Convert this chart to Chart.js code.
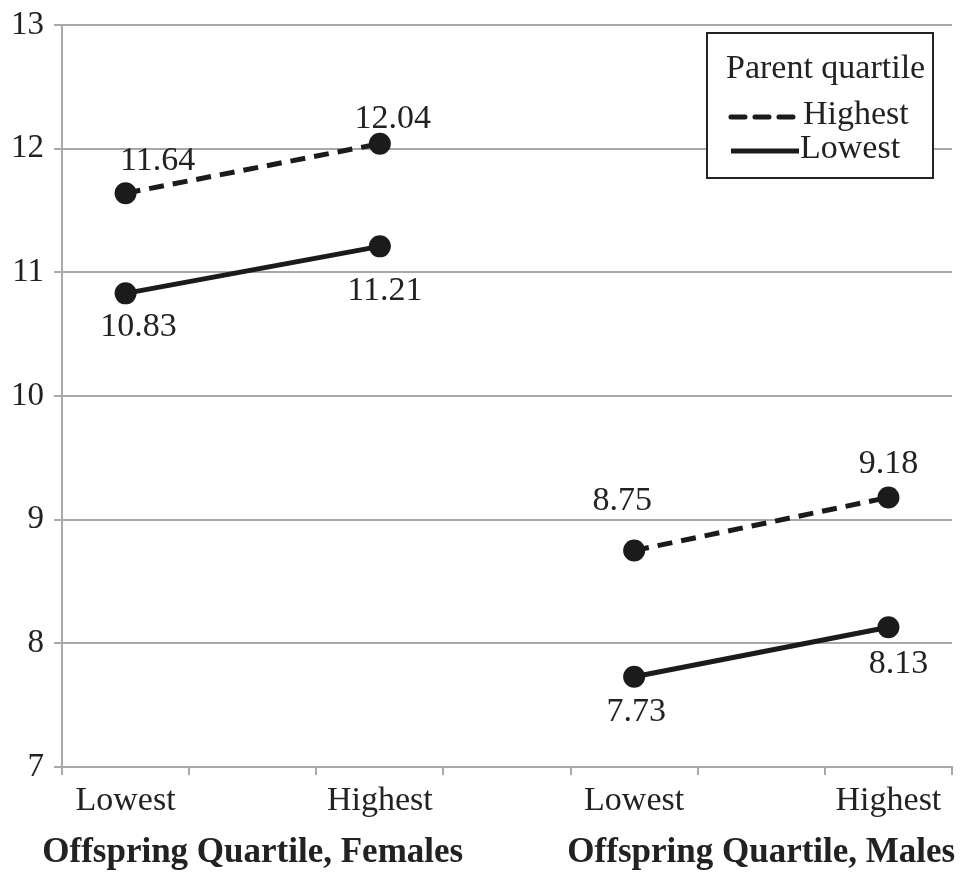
<!DOCTYPE html>
<html><head><meta charset="utf-8">
<script src="https://cdn.jsdelivr.net/npm/chart.js@4.4.1/dist/chart.umd.min.js"></script>
<style>html,body{margin:0;padding:0;background:#fff;}#wrap{width:965px;height:874px;}</style>
</head><body><div id="wrap"><canvas id="c" width="965" height="874"></canvas></div>
<script>
// Data
const categories = ['Lowest', '', 'Highest', '', 'Lowest', '', 'Highest'];
const groupTitles = ['Offspring Quartile, Females', 'Offspring Quartile, Males'];
const femalesHighestParent = [11.64, null, 12.04, null, null, null, null];
const femalesLowestParent  = [10.83, null, 11.21, null, null, null, null];
const malesHighestParent   = [null, null, null, null, 8.75, null, 9.18];
const malesLowestParent    = [null, null, null, null, 7.73, null, 8.13];
const legendTitle = 'Parent quartile';
const legendLabels = ['Highest', 'Lowest'];
const yTicks = [7, 8, 9, 10, 11, 12, 13];

const FONT = '"Liberation Serif", "Times New Roman", serif';
const INK = '#1b1b1b';
const GRID = '#a8a8a8';

// label offsets (style only), per dataset per index
const labelOffsets = [
  {0: [32, -32], 2: [13, -25]},
  {0: [13, 34], 2: [5, 45]},
  {4: [-12, -50], 6: [0, -33]},
  {4: [2, 35], 6: [10, 37]}
];

function ds(data, dashed) {
  return {
    data, spanGaps: true,
    borderColor: INK, backgroundColor: INK,
    borderWidth: 5, borderDash: dashed ? [15, 9] : [],
    pointRadius: 11, pointHoverRadius: 11,
    pointBackgroundColor: INK, pointBorderColor: INK, pointBorderWidth: 0,
    borderCapStyle: 'butt'
  };
}

const drawExtras = {
  id: 'extras',
  afterDatasetsDraw(chart) {
    const ctx = chart.ctx;
    const x = chart.scales.x;
    ctx.save();
    // data labels
    ctx.fillStyle = '#222';
    ctx.font = '34px ' + FONT;
    ctx.textAlign = 'center';
    ctx.textBaseline = 'middle';
    chart.data.datasets.forEach((d, di) => {
      const meta = chart.getDatasetMeta(di);
      d.data.forEach((v, i) => {
        if (v === null) return;
        const p = meta.data[i];
        const off = labelOffsets[di][i] || [0, -30];
        ctx.fillText(v.toFixed(2), p.x + off[0], p.y + off[1]);
      });
    });
    // group titles
    ctx.font = 'bold 35px ' + FONT;
    ctx.textBaseline = 'middle';
    ctx.fillText(groupTitles[0], x.getPixelForValue(1), 853);
    ctx.fillText(groupTitles[1], x.getPixelForValue(5), 853);
    // legend
    const lx = 707, ly = 33, lw = 226, lh = 145;
    ctx.fillStyle = '#fff';
    ctx.fillRect(lx, ly, lw, lh);
    ctx.strokeStyle = '#222';
    ctx.lineWidth = 2;
    ctx.strokeRect(lx, ly, lw, lh);
    ctx.fillStyle = '#222';
    ctx.font = '34px ' + FONT;
    ctx.textAlign = 'left';
    ctx.fillText(legendTitle, lx + 19, ly + 36);
    const samples = [chart.data.datasets[0], chart.data.datasets[1]];
    const rows = [ly + 84, ly + 118];
    samples.forEach((d, k) => {
      ctx.strokeStyle = INK;
      ctx.lineWidth = 5;
      ctx.lineCap = k === 0 ? 'round' : 'butt';
      ctx.setLineDash(k === 0 ? [14, 10] : []);
      ctx.beginPath();
      ctx.moveTo(lx + 24, rows[k]);
      ctx.lineTo(lx + 92, rows[k]);
      ctx.stroke();
      ctx.setLineDash([]);
      ctx.fillText(legendLabels[k], lx + (k === 0 ? 96 : 93), rows[k] - 2);
    });
    ctx.restore();
  }
};

new Chart(document.getElementById('c'), {
  type: 'line',
  data: {
    labels: categories,
    datasets: [ds(femalesHighestParent, true), ds(femalesLowestParent, false), ds(malesHighestParent, true), ds(malesLowestParent, false)]
  },
  options: {
    responsive: false,
    animation: false,
    layout: { padding: { top: 25, right: 13, left: 0, bottom: 0 } },
    plugins: { legend: { display: false }, tooltip: { enabled: false } },
    scales: {
      x: {
        offset: true,
        grid: { offset: true, drawOnChartArea: false, drawTicks: true, tickLength: 8, color: GRID, lineWidth: 2 },
        border: { color: GRID, width: 2 },
        ticks: { color: '#222', font: { family: FONT, size: 34 }, padding: 6, autoSkip: false, maxRotation: 0 },
        afterFit(s) { s.height = 107; }
      },
      y: {
        min: 7, max: 13,
        afterBuildTicks(s) { s.ticks = yTicks.map(v => ({ value: v })); },
        grid: { color: GRID, lineWidth: 2, drawTicks: true, tickLength: 8 },
        border: { color: GRID, width: 2 },
        ticks: { color: '#222', font: { family: FONT, size: 33, lineHeight: 1 }, padding: 10 },
        afterFit(s) { s.width = 62; s.paddingTop = 0; s.paddingBottom = 0; }
      }
    }
  },
  plugins: [drawExtras]
});
</script></body></html>
